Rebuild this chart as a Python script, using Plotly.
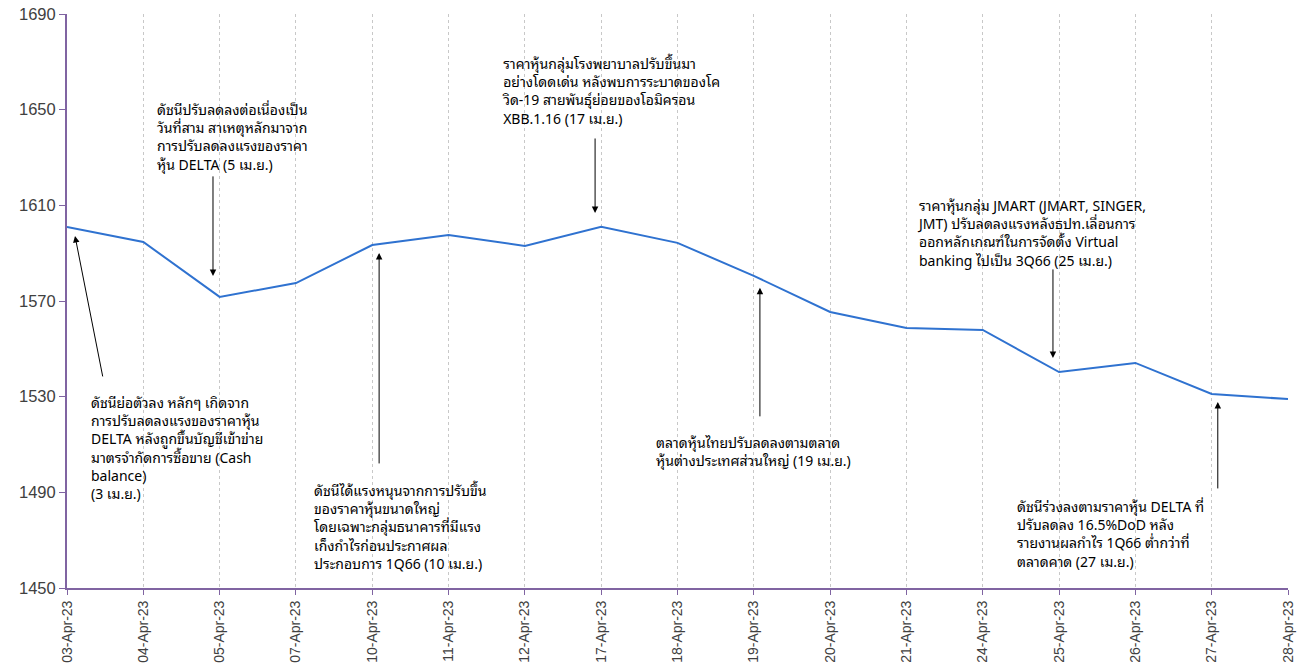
import plotly.graph_objects as go

dates = ["03-Apr-23", "04-Apr-23", "05-Apr-23", "07-Apr-23", "10-Apr-23", "11-Apr-23",
         "12-Apr-23", "17-Apr-23", "18-Apr-23", "19-Apr-23", "20-Apr-23", "21-Apr-23",
         "24-Apr-23", "25-Apr-23", "26-Apr-23", "27-Apr-23", "28-Apr-23"]
index_values = [1601.0, 1594.7, 1571.7, 1577.5, 1593.4, 1597.6, 1593.0, 1601.0, 1594.3,
                1580.5, 1565.4, 1558.7, 1557.9, 1540.3, 1544.1, 1531.1, 1529.0]
y_ticks = [1450, 1490, 1530, 1570, 1610, 1650, 1690]

notes = [
    "ดัชนีย่อตัวลง หลักๆ เกิดจาก<br>การปรับลดลงแรงของราคาหุ้น<br>DELTA หลังถูกขึ้นบัญชีเข้าข่าย<br>มาตรจำกัดการซื้อขาย (Cash<br>balance)<br>(3 เม.ย.)",
    "ดัชนีปรับลดลงต่อเนื่องเป็น<br>วันที่สาม สาเหตุหลักมาจาก<br>การปรับลดลงแรงของราคา<br>หุ้น DELTA (5 เม.ย.)",
    "ดัชนีได้แรงหนุนจากการปรับขึ้น<br>ของราคาหุ้นขนาดใหญ่<br>โดยเฉพาะกลุ่มธนาคารที่มีแรง<br>เก็งกำไรก่อนประกาศผล<br>ประกอบการ 1Q66 (10 เม.ย.)",
    "ราคาหุ้นกลุ่มโรงพยาบาลปรับขึ้นมา<br>อย่างโดดเด่น หลังพบการระบาดของโค<br>วิด-19 สายพันธุ์ย่อยของโอมิครอน<br>XBB.1.16 (17 เม.ย.)",
    "ตลาดหุ้นไทยปรับลดลงตามตลาด<br>หุ้นต่างประเทศส่วนใหญ่ (19 เม.ย.)",
    "ราคาหุ้นกลุ่ม JMART (JMART, SINGER,<br>JMT) ปรับลดลงแรงหลังธปท.เลื่อนการ<br>ออกหลักเกณฑ์ในการจัดตั้ง Virtual<br>banking ไปเป็น 3Q66 (25 เม.ย.)",
    "ดัชนีร่วงลงตามราคาหุ้น DELTA ที่<br>ปรับลดลง 16.5%DoD หลัง<br>รายงานผลกำไร 1Q66 ต่ำกว่าที่<br>ตลาดคาด (27 เม.ย.)",
]
# text box anchor (top-left), in axis units (category index, index level)
note_x = [0.30, 1.16, 3.22, 5.69, 7.71, 11.13, 12.44]
note_y = [1533.2, 1655.7, 1496.5, 1674.9, 1516.6, 1615.5, 1489.7]
# arrow heads and tail offsets (px)
arrow_x = [0.105, 1.913, 4.09, 6.92, 9.08, 12.92, 15.08]
arrow_y = [1597.2, 1580.5, 1590.1, 1606.8, 1575.5, 1546.2, 1527.8]
arrow_ax = [28, 0, 0, 0, 0, 0, 0]
arrow_ay = [142, -101, 212, -76, 130, -90, 88]

purple = "#8064A2"
fig = go.Figure()
fig.add_trace(go.Scatter(x=dates, y=index_values, mode="lines",
                         line=dict(color="#2F72D0", width=2), showlegend=False))

thai_font = "Noto Sans Thai Looped, Noto Sans Thai, Noto Sans, Liberation Sans, sans-serif"
annotations = []
for t, x, y in zip(notes, note_x, note_y):
    annotations.append(dict(x=x, y=y, xref="x", yref="y", text=t, showarrow=False,
                            xanchor="left", yanchor="top", align="left", borderpad=0,
                            font=dict(family=thai_font, size=14, color="#000000")))
for x, y, ax, ay in zip(arrow_x, arrow_y, arrow_ax, arrow_ay):
    annotations.append(dict(x=x, y=y, xref="x", yref="y", text="", showarrow=True,
                            ax=ax, ay=ay, arrowhead=2, arrowsize=1.3, arrowwidth=1,
                            arrowcolor="#000000"))

fig.update_layout(
    width=1301, height=668,
    margin=dict(l=67, r=13, t=14, b=80),
    plot_bgcolor="white", paper_bgcolor="white",
    annotations=annotations,
    xaxis=dict(type="category", range=[0, len(dates) - 1], showgrid=True, automargin=False,
               gridcolor="#C8C8C8", griddash="dot", gridwidth=1,
               showline=True, linecolor=purple, linewidth=2,
               ticks="outside", ticklen=5, tickcolor=purple, tickangle=-90,
               ticklabeloverflow="allow",
               tickfont=dict(family="Liberation Sans, Arial, sans-serif", size=14, color="#404040")),
    yaxis=dict(range=[1450, 1690], tickvals=y_ticks, showgrid=False, zeroline=False,
               automargin=False, showline=True, linecolor=purple, linewidth=2,
               ticks="outside", ticklen=6, tickcolor=purple, ticklabeloverflow="allow",
               tickfont=dict(family="Liberation Sans, Arial, sans-serif", size=16.5, color="#404040")),
)
fig.write_html("out.html", config={"displayModeBar": False},
               post_script="document.body.style.margin='0';")
